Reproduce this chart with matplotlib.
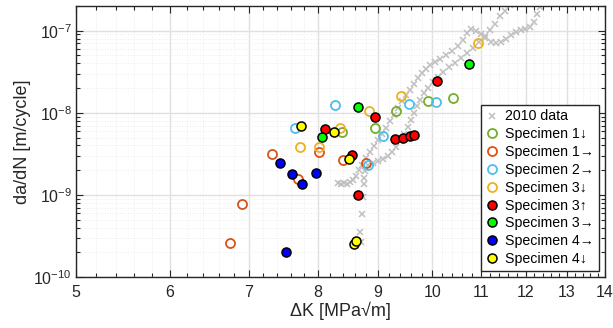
import numpy as np
import matplotlib
matplotlib.use('Agg')
import matplotlib.pyplot as plt
from matplotlib.ticker import FixedLocator, NullFormatter, LogLocator, LogFormatterSciNotation

plt.rcParams['font.family'] = ['Liberation Sans', 'DejaVu Sans']

# ---- 2010 reference data (two branches + low tail)
ref_tail_dk = [8.71, 8.69, 8.73, 8.74, 8.75]
ref_tail_da = [2.67e-10, 3.54e-10, 5.86e-10, 9.5e-10, 1.36e-9]

ref_a_dk = [8.33, 8.38, 8.43, 8.48, 8.52, 8.57, 8.62, 8.67, 8.73, 8.80, 8.86, 8.93, 9.00,
            9.07, 9.14, 9.21, 9.29, 9.36, 9.43, 9.51, 9.58, 9.65, 9.73, 9.81, 9.88, 9.96,
            10.06, 10.16, 10.27, 10.40, 10.52, 10.62, 10.70, 10.79, 10.89, 11.00, 11.09,
            11.22, 11.33, 11.44, 11.55, 11.66, 11.77, 11.89, 11.98, 12.10, 12.19, 12.26,
            12.34, 12.39]
ref_a_da = [1.40e-9, 1.36e-9, 1.40e-9, 1.36e-9, 1.44e-9, 1.52e-9, 1.70e-9, 2.02e-9, 2.32e-9,
            2.82e-9, 3.34e-9, 3.96e-9, 4.69e-9, 5.55e-9, 6.57e-9, 7.99e-9, 9.48e-9, 1.15e-8,
            1.40e-8, 1.66e-8, 1.90e-8, 2.25e-8, 2.67e-8, 3.07e-8, 3.44e-8, 3.86e-8, 4.20e-8,
            4.56e-8, 5.10e-8, 5.70e-8, 6.57e-8, 7.76e-8, 9.48e-8, 1.06e-7, 1.00e-7, 9.20e-8,
            8.22e-8, 7.33e-8, 7.12e-8, 7.33e-8, 7.99e-8, 8.93e-8, 9.76e-8, 1.03e-7, 1.06e-7,
            1.10e-7, 1.29e-7, 1.58e-7, 1.93e-7, 2.2e-7]

ref_b_dk = [8.75, 8.78, 8.83, 8.91, 9.00, 9.09, 9.18, 9.25, 9.32, 9.40, 9.47, 9.54, 9.60,
            9.66, 9.71, 9.77, 9.85, 9.92, 10.02, 10.12, 10.22, 10.34, 10.46, 10.58, 10.70,
            10.83, 10.96, 11.08, 11.19, 11.30, 11.41, 11.52, 11.64]
ref_b_da = [1.61e-9, 1.96e-9, 2.32e-9, 2.46e-9, 2.60e-9, 2.75e-9, 3.0e-9, 3.34e-9, 3.84e-9,
            4.56e-9, 5.55e-9, 6.73e-9, 8.22e-9, 1.0e-8, 1.22e-8, 1.44e-8, 1.76e-8, 2.02e-8,
            2.39e-8, 2.75e-8, 3.16e-8, 3.63e-8, 4.09e-8, 4.69e-8, 5.40e-8, 6.21e-8, 7.33e-8,
            8.69e-8, 1.03e-7, 1.22e-7, 1.49e-7, 1.76e-7, 2.07e-7]

# ---- specimens
s1d_dk = [8.39, 8.94, 9.32, 9.92, 10.41]
s1d_da = [5.9e-9, 6.6e-9, 1.06e-8, 1.40e-8, 1.52e-8]

s1r_dk = [6.75, 6.91, 7.32, 7.70, 8.03, 8.41, 8.79]
s1r_da = [2.6e-10, 7.8e-10, 3.16e-9, 1.57e-9, 3.34e-9, 2.67e-9, 2.46e-9]

s2r_dk = [7.66, 8.28, 9.56, 10.08, 9.09, 8.83]
s2r_da = [6.6e-9, 1.25e-8, 1.29e-8, 1.36e-8, 5.25e-9, 2.32e-9]

s3d_dk = [7.73, 8.03, 8.36, 8.85, 9.41, 10.94]
s3d_da = [3.84e-9, 3.84e-9, 6.57e-9, 1.06e-8, 1.61e-8, 7.15e-8]

s3u_dk = [8.12, 8.56, 8.66, 8.94, 9.30, 9.45, 9.58, 9.66, 10.10]
s3u_da = [6.38e-9, 3.08e-9, 1.0e-9, 8.93e-9, 4.82e-9, 4.96e-9, 5.25e-9, 5.40e-9, 2.45e-8]

s3r_dk = [8.07, 8.66, 10.75]
s3r_da = [5.09e-9, 1.18e-8, 3.96e-8]

s4r_dk = [7.44, 7.61, 7.76, 7.98, 7.53]
s4r_da = [2.46e-9, 1.80e-9, 1.36e-9, 1.85e-9, 2.02e-10]

s4d_dk = [7.75, 8.26, 8.51, 8.59, 8.63]
s4d_da = [6.93e-9, 5.86e-9, 2.75e-9, 2.52e-10, 2.75e-10]

dark = (0.15, 0.15, 0.15)

fig = plt.figure(figsize=(6.13, 3.28), dpi=100)
ax = fig.add_axes([0.124, 0.1555, 0.863, 0.8262])

ref_dk = ref_tail_dk + ref_a_dk + ref_b_dk
ref_da = ref_tail_da + ref_a_da + ref_b_da
ax.plot(ref_dk, ref_da, 'x', color=(0.75, 0.75, 0.75), ms=4, mew=1.1, label='2010 data')

ms = 6.5
ax.plot(s1d_dk, s1d_da, 'o', mfc='none', mec='#77AC30', ms=ms, mew=1.3, label='Specimen 1\u2193')
ax.plot(s1r_dk, s1r_da, 'o', mfc='none', mec='#D95319', ms=ms, mew=1.3, label='Specimen 1\u2192')
ax.plot(s2r_dk, s2r_da, 'o', mfc='none', mec='#4DBEEE', ms=ms, mew=1.3, label='Specimen 2\u2192')
ax.plot(s3d_dk, s3d_da, 'o', mfc='none', mec='#EDB120', ms=ms, mew=1.3, label='Specimen 3\u2193')
ax.plot(s3u_dk, s3u_da, 'o', mfc='#FF0000', mec='k', ms=ms, mew=1.1, label='Specimen 3\u2191')
ax.plot(s3r_dk, s3r_da, 'o', mfc='#00FF00', mec='k', ms=ms, mew=1.1, label='Specimen 3\u2192')
ax.plot(s4r_dk, s4r_da, 'o', mfc='#0000FF', mec='k', ms=ms, mew=1.1, label='Specimen 4\u2192')
ax.plot(s4d_dk, s4d_da, 'o', mfc='#FFFF00', mec='k', ms=ms, mew=1.1, label='Specimen 4\u2193')

ax.set_xscale('log')
ax.set_yscale('log')
ax.set_xlim(5, 14)
ax.set_ylim(1e-10, 2.0e-7)

xt = list(range(5, 15))
ax.xaxis.set_major_locator(FixedLocator(xt))
ax.set_xticklabels([str(v) for v in xt])
ax.xaxis.set_minor_locator(FixedLocator([v / 10 for v in range(50, 141, 2) if v % 10 != 0]))
ax.xaxis.set_minor_formatter(NullFormatter())
ax.yaxis.set_major_locator(LogLocator(base=10, numticks=10))
ax.yaxis.set_major_formatter(LogFormatterSciNotation())
ax.yaxis.set_minor_locator(LogLocator(base=10, subs=np.arange(2, 10), numticks=20))
ax.yaxis.set_minor_formatter(NullFormatter())

ax.tick_params(which='both', direction='in', top=True, right=True, colors=dark,
               labelcolor=dark, width=0.8)
ax.tick_params(which='major', length=5, labelsize=11.5)
ax.tick_params(axis='x', which='major', pad=6)
ax.tick_params(axis='y', which='major', pad=3)
ax.tick_params(which='minor', length=3)

ax.grid(True, which='major', color=(0.88, 0.88, 0.88), linewidth=1.0)
ax.grid(True, which='minor', color=(0.93, 0.93, 0.93), linewidth=0.7, linestyle=':')
ax.set_axisbelow(True)
for s in ax.spines.values():
    s.set_color(dark)
    s.set_linewidth(1.0)

ax.set_xlabel('\u0394K [MPa\u221am]', fontsize=13, color=dark, labelpad=1)
ax.set_ylabel('da/dN [m/cycle]', fontsize=13, color=dark, labelpad=2)

leg = ax.legend(loc='lower right', bbox_to_anchor=(0.989, 0.022), borderaxespad=0,
                fontsize=10.2, labelspacing=0.27, handlelength=0.8, handletextpad=0.55,
                borderpad=0.35, fancybox=False, framealpha=1, edgecolor=dark)
leg.get_frame().set_linewidth(1.0)

fig.savefig('out.png', dpi=100)
